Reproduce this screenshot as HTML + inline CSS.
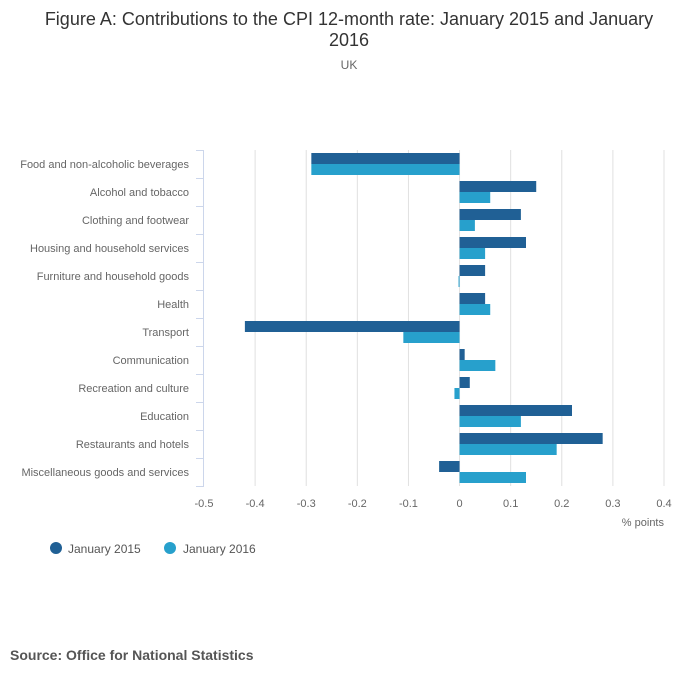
<!DOCTYPE html>
<html><head><meta charset="utf-8"><style>
body{margin:0;background:#fff;font-family:"Liberation Sans",sans-serif;}
svg text{font-family:"Liberation Sans",sans-serif;}
</style></head><body>
<svg id="chart" width="700" height="682" xmlns="http://www.w3.org/2000/svg">
<text x="349" y="25" text-anchor="middle" font-size="18" fill="#333">Figure A: Contributions to the CPI 12-month rate: January 2015 and January</text>
<text x="349" y="46" text-anchor="middle" font-size="18" fill="#333">2016</text>
<text x="349" y="69" text-anchor="middle" font-size="12" fill="#666">UK</text>
<g id="grid"></g><g id="bars"></g><g id="axes"></g>
<text x="664" y="526" text-anchor="end" font-size="11" fill="#666">% points</text>
<g><circle cx="56" cy="548" r="6" fill="#206095"/><text x="68" y="553" font-size="12" fill="#555">January 2015</text></g>
<g><circle cx="170" cy="548" r="6" fill="#27a0cc"/><text x="183" y="553" font-size="12" fill="#555">January 2016</text></g>
<text x="10" y="660" font-size="14" font-weight="bold" fill="#555">Source: Office for National Statistics</text>
</svg>
<script>
const categories=["Food and non-alcoholic beverages","Alcohol and tobacco","Clothing and footwear","Housing and household services","Furniture and household goods","Health","Transport","Communication","Recreation and culture","Education","Restaurants and hotels","Miscellaneous goods and services"];
const jan2015=[-0.29,0.15,0.12,0.13,0.05,0.05,-0.42,0.01,0.02,0.22,0.28,-0.04];
const jan2016=[-0.29,0.06,0.03,0.05,-0.002,0.06,-0.11,0.07,-0.01,0.12,0.19,0.13];
const xTicks=[-0.5,-0.4,-0.3,-0.2,-0.1,0,0.1,0.2,0.3,0.4];
const NS="http://www.w3.org/2000/svg";
const x0=204,x1=664,vmin=-0.5,vmax=0.4,yTop=150,rowH=28;
function xs(v){return x0+(v-vmin)/(vmax-vmin)*(x1-x0);}
function ys(i){return yTop+i*rowH;}
function mk(tag,attrs,parent){const e=document.createElementNS(NS,tag);for(const k in attrs)e.setAttribute(k,attrs[k]);document.getElementById(parent).appendChild(e);return e;}
const yBottom=ys(categories.length);
xTicks.forEach(t=>{
  if(t!==vmin){const g=mk('line',{x1:xs(t),x2:xs(t),y1:yTop,y2:yBottom,stroke:'#e0e0e0','stroke-width':1},'grid');
  
  }
  const l=mk('text',{x:xs(t),y:yBottom+21,'text-anchor':'middle','font-size':11,fill:'#666'},'axes');
  l.textContent=String(t);
  
  
});
const ax=mk('line',{x1:x0-0.5,x2:x0-0.5,y1:yTop,y2:yBottom,stroke:'#ccd6eb','stroke-width':1},'axes');


for(let i=0;i<=categories.length;i++){
  const tk=mk('line',{x1:x0-8,x2:x0,y1:ys(i)+0.5,y2:ys(i)+0.5,stroke:'#ccd6eb'},'axes');
  
  
}
categories.forEach((c,i)=>{
  const t=mk('text',{x:189,y:ys(i)+18,'text-anchor':'end','font-size':11,fill:'#666'},'axes');
  t.textContent=c;
  
  
  [[jan2015,'#206095',3],[jan2016,'#27a0cc',14]].forEach(([arr,col,off])=>{
    const v=arr[i];const a=xs(Math.min(0,v)),b=xs(Math.max(0,v));
    const r=mk('rect',{x:a,y:ys(i)+off,width:Math.max(b-a,0.8),height:11,fill:col},'bars');
    
    
  });
});
</script>
</body></html>
